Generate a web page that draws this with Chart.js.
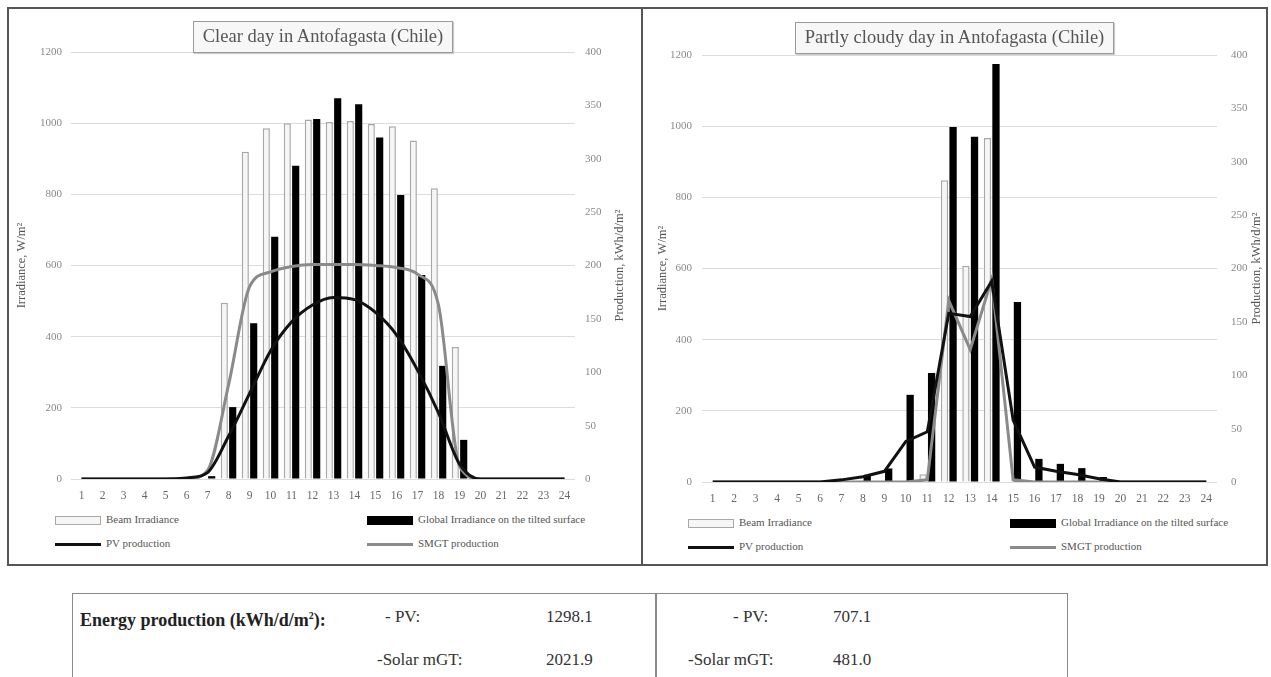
<!DOCTYPE html>
<html>
<head>
<meta charset="utf-8">
<script src="https://cdn.jsdelivr.net/npm/chart.js@4.4.1/dist/chart.umd.min.js"></script>
<style>
  body { margin: 0; width: 1271px; height: 677px; background: #fff; position: relative; overflow: hidden;
         font-family: "Liberation Serif", "DejaVu Serif", serif; }
  .panel { position: absolute; border: 2px solid #555; box-sizing: border-box; }
  canvas { position: absolute; }
  .title { position: absolute; border: 1.5px solid #9a9a9a; background: #f7f7f7; color: #555;
           font-size: 18.5px; text-align: center; line-height: 29px; box-shadow: 1px 1px 1px #ccc; box-sizing: border-box; }
  .item { position: absolute; white-space: nowrap; font-size: 11px; color: #555; line-height: 12px; }
  .swatch { display: inline-block; width: 46px; vertical-align: middle; margin-right: 5px; box-sizing: border-box; }
  .table { position: absolute; left: 72px; top: 593px; width: 996px; height: 100px; border: 1.5px solid #8a8a8a; box-sizing: border-box; }
  .cell { position: absolute; font-size: 17px; color: #333; white-space: nowrap; line-height: 20px; }
</style>
</head>
<body>

<div class="panel" style="left:7px; top:7px; width:636px; height:559px;"></div>
<div class="panel" style="left:641px; top:7px; width:627px; height:559px;"></div>

<canvas id="clearChart" width="629" height="510" style="left:10px; top:0px;"></canvas>
<canvas id="cloudyChart" width="622" height="512" style="left:643px; top:0px;"></canvas>

<div class="title" style="left:193px; top:21px; width:260px; height:32px;">Clear day in Antofagasta (Chile)</div>
<div class="title" style="left:795px; top:22px; width:319px; height:32px;">Partly cloudy day in Antofagasta (Chile)</div>

<div id="legendClear"></div>
<div id="legendCloudy"></div>

<div class="table">
  <div style="position:absolute; left:582px; top:0; width:1.5px; height:100px; background:#8a8a8a;"></div>
</div>
<div id="energy"></div>

<script>
const hours = ['1','2','3','4','5','6','7','8','9','10','11','12','13','14','15','16','17','18','19','20','21','22','23','24'];
const irrTicks = [0, 200, 400, 600, 800, 1000, 1200];
const prodTicks = [0, 50, 100, 150, 200, 250, 300, 350, 400];

// clear day
const clearBeam   = [0,0,0,0,0,0,0,495,920,986,1000,1010,1003,1006,998,991,951,817,371,0,0,0,0,0];
const clearGlobal = [0,0,0,0,0,0,8,202,438,681,880,1012,1070,1053,960,798,573,318,110,0,0,0,0,0];
const clearPV     = [0,0,0,0,0,1,6,40,80,120,147,163,170,168,156,135,102,62,14,0,0,0,0,0];
const clearSMGT   = [0,0,0,0,0,0,8,88,180,194,199,201,201,201,200,198,192,163,12,0,0,0,0,0];

// partly cloudy day
const cloudyBeam   = [0,0,0,0,0,0,0,0,0,3,22,848,608,967,0,0,0,0,0,0,0,0,0,0];
const cloudyGlobal = [0,0,0,0,0,0,0,20,38,245,306,998,970,1175,506,65,51,39,14,0,0,0,0,0];
const cloudyPV     = [0,0,0,0,0,0,2,5,10,38,47,158,155,188,58,14,10,7,3,0,0,0,0,0];
const cloudySMGT   = [0,0,0,0,0,0,0,0,0,0,2,170,124,190,2,0,0,0,0,0,0,0,0,0];

const seriesNames = ['Beam Irradiance', 'Global Irradiance on the tilted surface', 'PV production', 'SMGT production'];

const energyRows = ['- PV:', '-Solar mGT:'];
const energyClear = ['1298.1', '2021.9'];
const energyCloudy = ['707.1', '481.0'];

const serif = '"Liberation Serif", "DejaVu Serif", serif';

const sideTitles = {
  id: 'sideTitles',
  afterDraw(chart, args, opts) {
    const ctx = chart.ctx;
    const a = chart.chartArea;
    const midY = (a.top + a.bottom) / 2;
    ctx.save();
    ctx.font = '12.5px ' + serif;
    ctx.fillStyle = '#555';
    ctx.textAlign = 'center';
    ctx.textBaseline = 'middle';
    [[opts.leftX, opts.left], [opts.rightX, opts.right]].forEach(([x, text]) => {
      ctx.save();
      ctx.translate(x, midY);
      ctx.rotate(-Math.PI / 2);
      ctx.fillText(text, 0, 0);
      ctx.restore();
    });
    ctx.restore();
  }
};

function makeChart(id, beam, global, pv, smgt, g) {
  const ctx = document.getElementById(id).getContext('2d');
  return new Chart(ctx, {
    type: 'bar',
    data: {
      labels: hours,
      datasets: [
        { type: 'bar', label: seriesNames[0], data: beam, yAxisID: 'y', order: 2,
          backgroundColor: '#f6f6f6', borderColor: '#a8a8a8', borderWidth: 1.5,
          barPercentage: 0.85, categoryPercentage: 0.8 },
        { type: 'bar', label: seriesNames[1], data: global, yAxisID: 'y', order: 2,
          backgroundColor: '#000', borderColor: '#000', borderWidth: 0,
          barPercentage: 0.85, categoryPercentage: 0.8 },
        { type: 'line', label: seriesNames[2], data: pv, yAxisID: 'y1', order: 0,
          borderColor: '#111', borderWidth: 3, pointRadius: 0, tension: g.tension,
          cubicInterpolationMode: g.tension ? 'monotone' : 'default' },
        { type: 'line', label: seriesNames[3], data: smgt, yAxisID: 'y1', order: 1,
          borderColor: '#8a8a8a', borderWidth: 3, pointRadius: 0, tension: g.tension,
          cubicInterpolationMode: g.tension ? 'monotone' : 'default' }
      ]
    },
    options: {
      responsive: false,
      animation: false,
      layout: { padding: { top: g.top, left: 0, right: 0, bottom: 0 } },
      plugins: {
        legend: { display: false },
        tooltip: { enabled: false },
        sideTitles: { left: 'Irradiance, W/m²', right: 'Production, kWh/d/m²', leftX: g.leftX, rightX: g.rightX }
      },
      scales: {
        x: {
          grid: { display: false },
          border: { display: false },
          ticks: { color: '#666', font: { family: serif, size: 11.5 }, maxRotation: 0, autoSkip: false, padding: g.xPad },
          afterFit: s => { s.height = g.xHeight; }
        },
        y: {
          position: 'left', min: 0, max: 1200,
          afterBuildTicks: s => { s.ticks = irrTicks.map(v => ({ value: v })); },
          grid: { color: '#dcdcdc', drawTicks: false, lineWidth: 1 },
          border: { display: false },
          ticks: { color: '#888', font: { family: serif, size: 11 }, padding: g.yPad, callback: v => String(v) },
          afterFit: s => { s.width = g.yWidth; }
        },
        y1: {
          position: 'right', min: 0, max: 400,
          afterBuildTicks: s => { s.ticks = prodTicks.map(v => ({ value: v })); },
          grid: { display: false, drawTicks: false },
          border: { display: false },
          ticks: { color: '#888', font: { family: serif, size: 11 }, padding: g.y1Pad, callback: v => String(v) },
          afterFit: s => { s.width = g.y1Width; }
        }
      }
    },
    plugins: [sideTitles]
  });
}

const c1 = makeChart('clearChart', clearBeam, clearGlobal, clearPV, clearSMGT,
  { top: 52, yWidth: 61, y1Width: 64, xHeight: 31, xPad: 2, yPad: 9, y1Pad: 10, leftX: 12, rightX: 610, tension: 0.4 });
const c2 = makeChart('cloudyChart', cloudyBeam, cloudyGlobal, cloudyPV, cloudySMGT,
  { top: 55, yWidth: 59, y1Width: 48, xHeight: 30, xPad: 2, yPad: 10, y1Pad: 14, leftX: 20, rightX: 614, tension: 0 });

function buildLegend(chart, el, cols, rows) {
  chart.data.datasets.forEach((ds, i) => {
    const item = document.createElement('div');
    item.className = 'item';
    item.style.left = cols[i % 2] + 'px';
    item.style.top = rows[Math.floor(i / 2)] + 'px';
    const sw = document.createElement('span');
    sw.className = 'swatch';
    if (ds.type === 'bar') {
      sw.style.height = '9px';
      sw.style.background = ds.backgroundColor;
      sw.style.border = ds.borderWidth ? '1.5px solid ' + ds.borderColor : 'none';
    } else {
      sw.style.height = '3px';
      sw.style.background = ds.borderColor;
    }
    item.appendChild(sw);
    item.appendChild(document.createTextNode(ds.label));
    el.appendChild(item);
  });
}
buildLegend(c1, document.getElementById('legendClear'), [55, 367], [513, 537]);
buildLegend(c2, document.getElementById('legendCloudy'), [688, 1010], [516, 540]);

const energy = document.getElementById('energy');
function cell(text, x, y, bold) {
  const d = document.createElement('div');
  d.className = 'cell';
  d.style.left = x + 'px';
  d.style.top = y + 'px';
  if (bold) { d.style.fontWeight = 'bold'; d.style.fontSize = '18px'; d.style.color = '#222'; }
  d.innerHTML = text;
  energy.appendChild(d);
}
cell('Energy production (kWh/d/m<sup style="font-size:10px">2</sup>):', 80, 606, true);
energyRows.forEach((label, i) => {
  const y = 607 + i * 43;
  const shift = i === 0 ? 0 : -8;
  cell(label, 385 + shift, y);
  cell(energyClear[i], 546, y);
  cell(label, (i === 0 ? 733 : 688), y);
  cell(energyCloudy[i], 833, y);
});
</script>
</body>
</html>
